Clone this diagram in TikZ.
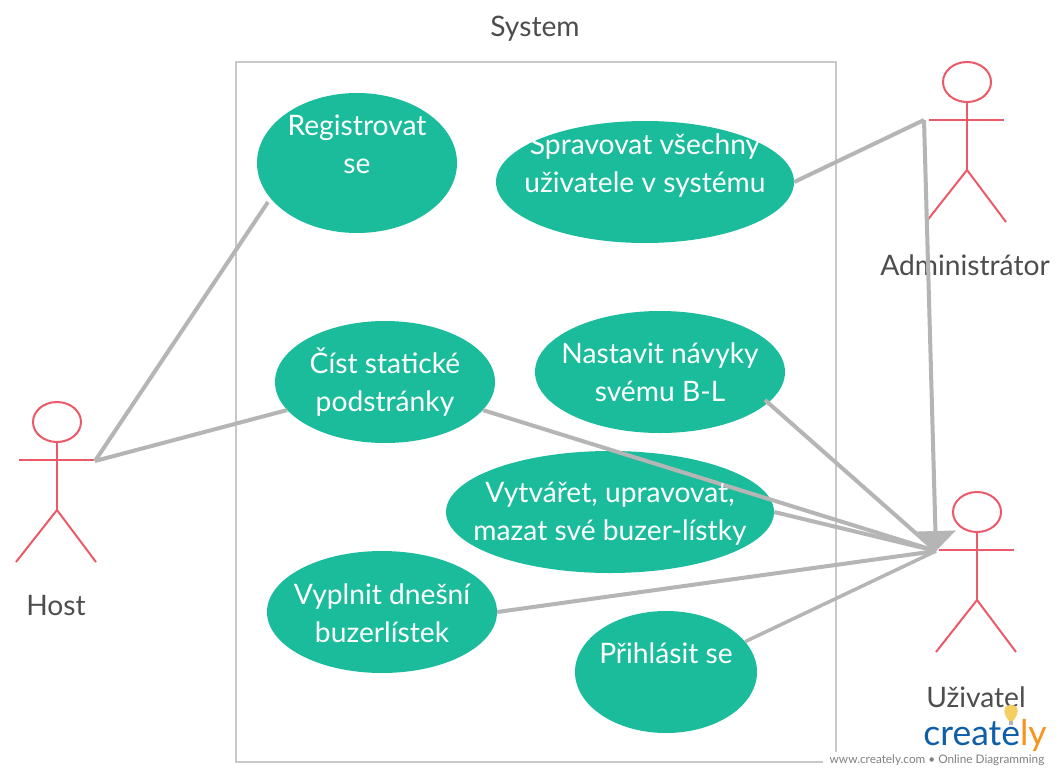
\documentclass[tikz,border=0pt]{standalone}
\usepackage{fontspec}
\setmainfont{Lato}
\usetikzlibrary{arrows.meta,shapes.geometric}
\definecolor{usecase}{HTML}{1ABC9C}
\definecolor{actorred}{HTML}{EC5A6A}
\definecolor{linegray}{HTML}{B5B5B5}
\definecolor{boxgray}{HTML}{C8C8C8}
\definecolor{textgray}{HTML}{4D4D4D}
\definecolor{logoblue}{HTML}{0F5FA8}
\definecolor{logoorange}{HTML}{F7941D}
\definecolor{bulbyellow}{HTML}{F5CE62}
\tikzset{
	usecasenode/.style = {ellipse, fill = usecase, inner sep = 0pt},
	usecasetext/.style = {align = center, text = white, font = \fontsize{28.2}{38}\selectfont, inner sep = 0pt},
	actortext/.style = {text = textgray, font = \fontsize{28.2}{32}\selectfont, inner sep = 0pt},
	actorline/.style = {draw = actorred, line width = 2pt},
	assoc/.style = {draw = linegray, line width = 4pt},
	assocthin/.style = {draw = linegray, line width = 3.5pt}
}
\begin{document}
\begin{tikzpicture}[x = 1pt, y = -1pt]
	 \useasboundingbox (0, 0) rectangle (1059, 776);
	 \fill[white] (0, 0) rectangle (1059, 776);
	 
	 \draw[boxgray, line width = 2pt] (236, 62) rectangle (836, 762);
	 \node[actortext] (systemtext) at (535, 29) {System};
	 
	 \node[usecasenode, minimum width = 200pt, minimum height = 140pt] (register) at (357, 163) {};
	 \node[usecasenode, minimum width = 298pt, minimum height = 122pt] (manage) at (645, 182) {};
	 \node[usecasenode, minimum width = 220pt, minimum height = 122pt] (read) at (385, 382) {};
	 \node[usecasenode, minimum width = 250pt, minimum height = 122pt] (habits) at (660, 372) {};
	 \node[usecasenode, minimum width = 328pt, minimum height = 122pt] (lists) at (610, 512) {};
	 \node[usecasenode, minimum width = 230pt, minimum height = 122pt] (fill) at (382, 612) {};
	 \node[usecasenode, minimum width = 182pt, minimum height = 122pt] (login) at (666, 672) {};
	 
	 % actors
	 \foreach \x/\y in {57/422, 967/82, 977/512}
	 {
	 	 \draw[actorline] (\x, \y) ellipse (24 and 20);
	 	 \draw[actorline] (\x, \y + 20) -- (\x, \y + 88);
	 	 \draw[actorline] (\x - 38, \y + 38) -- (\x + 37, \y + 38);
	 	 \draw[actorline] (\x - 41, \y + 140) -- (\x, \y + 88) -- (\x + 39, \y + 140);
	 }
	 \coordinate (hosthand) at (95, 461);
	 \coordinate (adminhand) at (924, 120);
	 \coordinate (userhand) at (936, 551);
	 \coordinate (registerend) at (268, 202);
	 \coordinate (habitsend) at (765, 400);
	 
	 \node[actortext] (hosttext) at (56, 606) {Host};
	 \node[actortext] (admintext) at (965, 265) {Administrátor};
	 \node[actortext] (usertext) at (976, 697) {Uživatel};
	 
	 \draw[assoc] (hosthand) -- (registerend);
	 \draw[assoc] (hosthand) -- (read.196);
	 \draw[assoc] (manage.east) -- (adminhand);
	 \draw[assoc, -{Triangle[length = 20pt, width = 40pt]}] (adminhand) -- (userhand);
	 \draw[assoc] (read.344) -- (userhand);
	 \draw[assoc] (habitsend) -- (userhand);
	 \draw[assoc] (lists.east) -- (userhand);
	 \draw[assoc] (fill.east) -- (userhand);
	 \draw[assocthin] (login.21) -- (userhand);
	 
	 \node[usecasetext] (registertext) at (357, 144.5) {Registrovat\\se};
	 \node[usecasetext] (managetext) at (645, 166) {Spravovat všechny\\uživatele v systému};
	 \node[usecasetext] (readtext) at (385, 382) {Číst statické\\podstránky};
	 \node[usecasetext] (habitstext) at (660, 372.5) {Nastavit návyky\\svému B-L};
	 \node[usecasetext] (liststext) at (610, 513.5) {Vytvářet, upravovat,\\mazat své buzer-lístky};
	 \node[usecasetext] (filltext) at (382, 613) {Vyplnit dnešní\\buzerlístek};
	 \node[usecasetext] (logintext) at (666, 653) {Přihlásit se};
	 
	 % watermark
	 \fill[white] (823, 752) rectangle (1059, 776);
	 \node[text = gray, font = \fontsize{11.8}{14}\selectfont, inner sep = 0pt] (webtext) at (937, 760) {www.creately.com • Online Diagramming};
	 \node[font = \fontsize{35.5}{40}\selectfont, inner sep = 0pt] (logotext) at (985, 735) {\textcolor{logoblue}{create}\textcolor{logoorange}{ly}};
	 \fill[bulbyellow] (1011, 705) .. controls (1020, 705) and (1019, 714) .. (1013, 721) -- (1009, 721) .. controls (1003, 714) and (1002, 705) .. (1011, 705) -- cycle;
	 \fill[gray!60] (1009, 721) rectangle (1013, 725);
\end{tikzpicture}
\end{document}
